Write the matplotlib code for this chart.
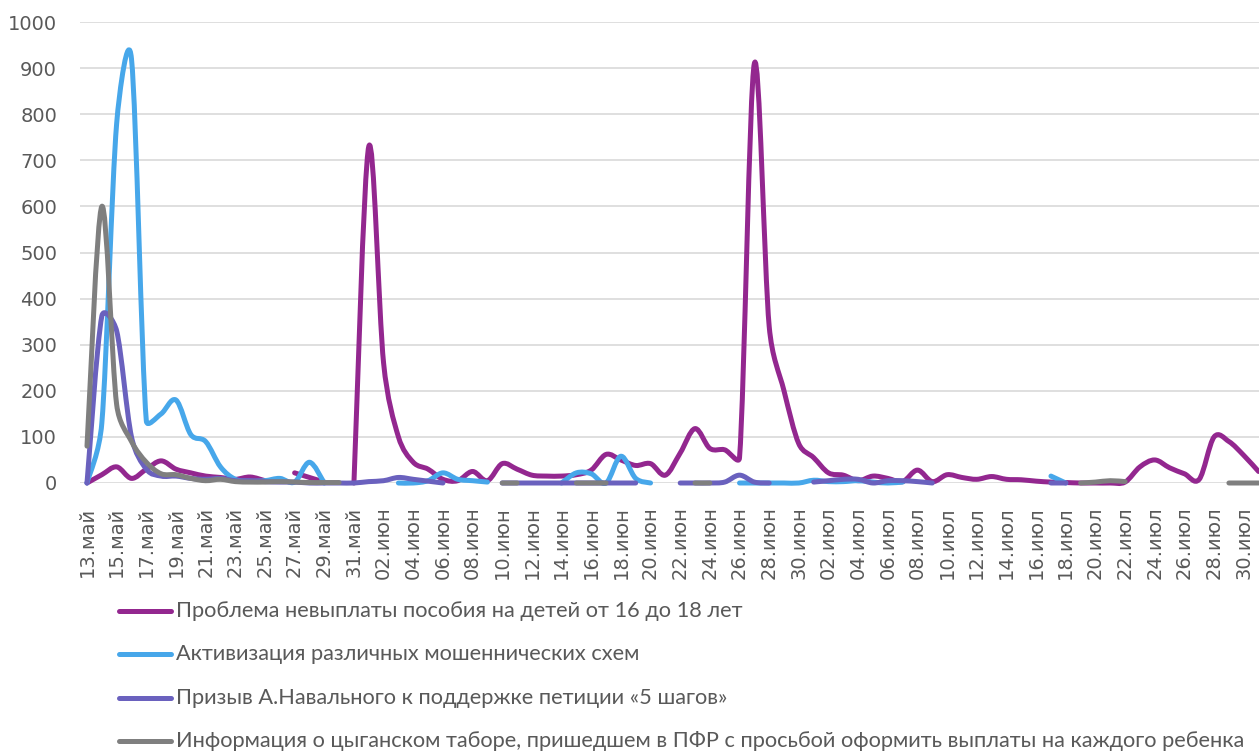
import datetime
import numpy as np
import matplotlib
matplotlib.use("Agg")
import matplotlib.pyplot as plt
from matplotlib.path import Path
from matplotlib.patches import PathPatch
from matplotlib.lines import Line2D

nan = np.nan

# daily values, 13 May .. 31 July (80 days), NaN = no data (gap in line)
problem = [0, 18, 35, 10, 30, 48, 30, 22, 15, 12,
           8, 13, 5, nan, 22, 12, 2, nan, 0, 730,
           260, 100, 45, 30, 8, 5, 25, 5, 42, 30,
           17, 15, 15, 18, 28, 62, 50, 38, 42, 17,
           65, 118, 75, 72, 55, 910, 340, 200, 85, 55,
           22, 17, 5, 15, 10, 3, 28, 3, 18, 12,
           8, 14, 8, 7, 4, 2, 1, 0, 0, 0,
           2, 35, 50, 33, 20, 8, 100, 90, 60, 25]

fraud = [0, 130, 780, 920, 135, 150, 180, 105, 90, 35,
         8, 4, 5, 10, 2, 45, 0, nan, nan, nan,
         nan, 0, 0, 5, 22, 8, 5, 2, nan, nan,
         nan, nan, 0, 22, 20, 0, 58, 10, 0, nan,
         nan, nan, nan, nan, 0, 0, 0, 0, 0, 6,
         3, 3, 5, 2, 0, 2, nan, nan, nan, nan,
         nan, nan, nan, nan, nan, 15, 0, nan, nan, nan,
         nan, nan, nan, nan, nan, nan, nan, nan, nan, nan]

navalny = [0, 362, 330, 100, 30, 15, 15, 10, 8, 10,
           5, 5, 3, 2, 2, 0, 0, 0, 0, 3,
           5, 12, 8, 4, 0, nan, nan, nan, 0, 0,
           0, 0, 0, 0, 0, 0, 0, 0, nan, nan,
           0, 0, 0, 2, 17, 2, 0, nan, nan, 2,
           5, 8, 8, 0, 5, 5, 3, 0, nan, nan,
           nan, nan, nan, nan, nan, 0, 0, nan, nan, nan,
           nan, nan, nan, nan, nan, nan, nan, nan, nan, nan]

gypsy = [80, 600, 170, 90, 45, 20, 18, 10, 5, 8,
         3, 2, 2, 3, 2, 1, 1, 1, nan, nan,
         nan, nan, nan, nan, nan, nan, nan, nan, 0, 0,
         nan, nan, nan, 0, 0, 0, nan, nan, nan, nan,
         nan, 0, 0, nan, nan, nan, nan, nan, nan, nan,
         nan, nan, nan, nan, nan, nan, nan, nan, nan, nan,
         nan, nan, nan, nan, nan, nan, nan, 0, 2, 5,
         3, nan, nan, nan, nan, nan, nan, 0, 0, 0]

labels = ["Проблема невыплаты пособия на детей от 16 до 18 лет",
          "Активизация различных мошеннических схем",
          "Призыв А.Навального к поддержке петиции «5 шагов»",
          "Информация о цыганском таборе, пришедшем в ПФР с просьбой оформить выплаты на каждого ребенка"]
colors = ["#93278F", "#47A7EA", "#6A61BE", "#7F7F7F"]

months = {5: "май", 6: "июн", 7: "июл"}
start = datetime.date(2020, 5, 13)
days = [start + datetime.timedelta(d) for d in range(len(problem))]
tick_labels = ["%02d.%s" % (d.day, months[d.month]) for d in days]

W, H = 1259, 753
PX_DAY = 14.83    # pixels per category
PX_UNIT = 0.461   # pixels per y unit


def smooth_path(xs, ys):
    """Excel-style smoothed line: cubic Bezier, control arms capped at half the segment."""
    pts = np.column_stack([np.asarray(xs) * PX_DAY, np.asarray(ys) * PX_UNIT])
    n = len(pts)
    verts = [pts[0]]
    codes = [Path.MOVETO]
    for i in range(n - 1):
        p0 = pts[max(i - 1, 0)]
        p1 = pts[i]
        p2 = pts[i + 1]
        p3 = pts[min(i + 2, n - 1)]
        half = np.hypot(*(p2 - p1)) / 2
        v1 = (p2 - p0) / 6
        v2 = (p3 - p1) / 6
        for v in (v1, v2):
            L = np.hypot(*v)
            if L > half and L > 0:
                v *= half / L
        verts += [p1 + v1, p2 - v2, p2]
        codes += [Path.CURVE4] * 3
    verts = np.array(verts) / [PX_DAY, PX_UNIT]
    return Path(verts, codes)


fig = plt.figure(figsize=(W / 100, H / 100), dpi=100)
ax = fig.add_axes([80 / W, 1 - 483 / H, (W - 80) / W, (483 - 22) / H])

x = np.arange(len(problem))
for series, col, z in zip([problem, fraud, navalny, gypsy], colors, [3, 4, 5, 6]):
    y = np.array(series, dtype=float)
    idx = np.where(~np.isnan(y))[0]
    # split into runs of consecutive values
    runs = np.split(idx, np.where(np.diff(idx) != 1)[0] + 1)
    for r in runs:
        if len(r) < 2:
            continue
        patch = PathPatch(smooth_path(x[r], y[r]), fill=False, edgecolor=col, lw=3.6,
                          capstyle="round", joinstyle="round", zorder=z, clip_on=False)
        ax.add_patch(patch)

ax.set_xlim(-7 / PX_DAY, (W - 87) / PX_DAY)
ax.set_ylim(0, 1000)
ax.set_yticks(np.arange(0, 1001, 100))
ax.set_xticks(x[::2])
ax.set_xticklabels(tick_labels[::2], rotation=90)
ax.tick_params(axis="both", length=0, labelsize=14, labelcolor="#595959")
ax.tick_params(axis="x", pad=17)
ax.tick_params(axis="y", pad=16.5)
ax.grid(axis="y", color="#D9D9D9", lw=1.2)
ax.set_axisbelow(True)
for s in ax.spines.values():
    s.set_visible(False)

# legend, one entry per row under the plot
for k, (lab, col) in enumerate(zip(labels, colors)):
    yy = 1 - (611 + 43.4 * k) / H
    fig.add_artist(Line2D([119 / W, 171 / W], [yy, yy], color=col, lw=3.6,
                          solid_capstyle="round"))
    fig.text(176 / W, yy, lab, va="center", ha="left", color="#595959",
             family=["Lato", "DejaVu Sans"], fontsize=15.7)

fig.savefig("out.png", dpi=100)
